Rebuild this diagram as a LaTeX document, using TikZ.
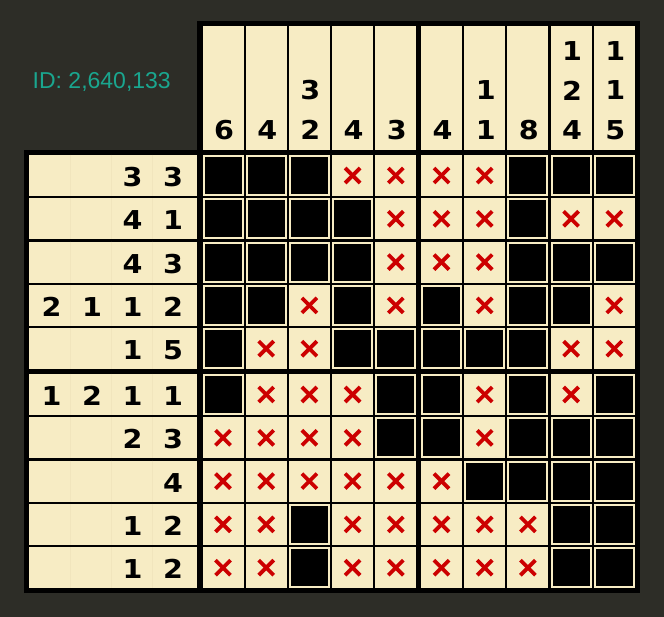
\documentclass[tikz,border=0pt]{standalone}
\usepackage{fontspec}
\newfontfamily\digfont{DejaVu Sans}[FakeStretch=1.1]
\newfontfamily\idfont{Liberation Sans}
\definecolor{bgc}{HTML}{2D2D27}
\definecolor{beige}{HTML}{F7ECC4}
\definecolor{faint}{HTML}{F1E5BD}
\definecolor{xred}{HTML}{CC0000}
\definecolor{teal}{HTML}{1AA68F}
\tikzset{
  cellbox/.style={fill=beige, minimum width=41pt, minimum height=41pt, inner sep=0pt, outer sep=0pt, anchor=north west},
  filledbox/.style={fill=black, minimum width=37pt, minimum height=37pt, inner sep=0pt, outer sep=0pt},
  crossline/.style={xred, line width=3.8pt},
  clue/.style={font=\digfont\bfseries\fontsize{26}{26}\selectfont, inner sep=0pt, anchor=center},
  clueline/.style={faint, line width=0.6pt},
}
\begin{document}
\begin{tikzpicture}[x=1pt,y=-1pt]
\fill[bgc] (0,0) rectangle (664,617);
\useasboundingbox (0,0) rectangle (664,617);
\node[text=teal, font=\idfont\fontsize{23}{23}\selectfont, anchor=base west, inner sep=0pt] (id) at (32.5,88.3) {ID: 2,640,133};
% black frame
\fill[black] (197,21) rectangle (640,593);
\fill[black] (24,150) rectangle (640,593);
% column clue cells
\foreach \c/\vals in {0/{6},1/{4},2/{2,3},3/{4},4/{3},5/{4},6/{1,1},7/{8},8/{4,2,1},9/{5,1,1}}{
  \pgfmathsetmacro\cx{202.5+43.2*\c+(\c>=5?2.5:0)}
  \node[cellbox, minimum height=124pt] (colclue-\c) at (\cx,26) {};
  \foreach \d [count=\m] in \vals {
    \pgfmathsetmacro\dy{130-39.5*(\m-1)}
    \node[clue] (cd-\c-\m) at ({\cx+21.5},\dy) {\d};
  }
}
% row clue cells
\foreach \r/\vals in {0/{3,3},1/{1,4},2/{3,4},3/{2,1,1,2},4/{5,1},5/{1,1,2,1},6/{3,2},7/{4},8/{2,1},9/{2,1}}{
  \pgfmathsetmacro\ry{155+43.3*\r+(\r>=5?2.5:0)}
  \node[cellbox, minimum width=168pt] (rowclue-\r) at (29,\ry) {};
  \foreach \lx in {70,111,152}{
    \draw[clueline] (\lx,\ry) -- (\lx,{\ry+41});
  }
  \foreach \d [count=\m] in \vals {
    \pgfmathsetmacro\dx{173-40.5*(\m-1)}
    \node[clue] (rd-\r-\m) at (\dx,{\ry+22}) {\d};
  }
}
% grid
\foreach \r/\vals in {
  0/{1,1,1,0,0,0,0,1,1,1},
  1/{1,1,1,1,0,0,0,1,0,0},
  2/{1,1,1,1,0,0,0,1,1,1},
  3/{1,1,0,1,0,1,0,1,1,0},
  4/{1,0,0,1,1,1,1,1,0,0},
  5/{1,0,0,0,1,1,0,1,0,1},
  6/{0,0,0,0,1,1,0,1,1,1},
  7/{0,0,0,0,0,0,1,1,1,1},
  8/{0,0,1,0,0,0,0,0,1,1},
  9/{0,0,1,0,0,0,0,0,1,1}}{
  \pgfmathsetmacro\ry{155+43.3*\r+(\r>=5?2.5:0)}
  \foreach \v [count=\k from 0] in \vals {
    \pgfmathsetmacro\cx{202.5+43.2*\k+(\k>=5?2.5:0)}
    \node[cellbox] (cell-\r-\k) at (\cx,\ry) {};
    \ifnum\v=1
      \node[filledbox] (fill-\r-\k) at (cell-\r-\k.center) {};
    \else
      \draw[crossline] ([xshift=-7.5pt,yshift=7.5pt]cell-\r-\k.center) -- ([xshift=7.5pt,yshift=-7.5pt]cell-\r-\k.center);
      \draw[crossline] ([xshift=-7.5pt,yshift=-7.5pt]cell-\r-\k.center) -- ([xshift=7.5pt,yshift=7.5pt]cell-\r-\k.center);
    \fi
  }
}
\end{tikzpicture}
\end{document}
